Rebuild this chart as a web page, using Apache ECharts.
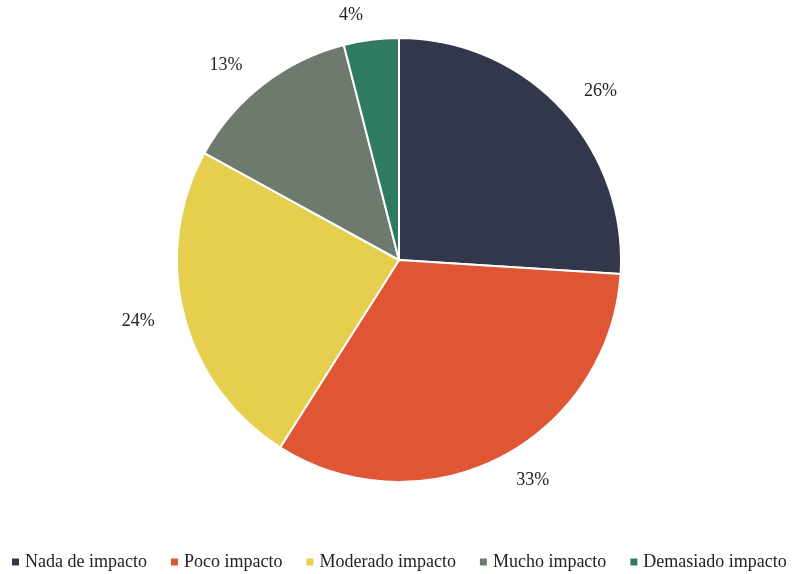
<!DOCTYPE html>
<html>
<head>
<meta charset="utf-8">
<script src="https://cdn.jsdelivr.net/npm/echarts@6/dist/echarts.min.js"></script>
<style>
  html, body { margin: 0; padding: 0; background: #fff; }
  #chart { width: 801px; height: 574px; }
</style>
</head>
<body>
<div id="chart"></div>
<script>
// Impact categories and their shares (percent)
const categories = ['Nada de impacto', 'Poco impacto', 'Moderado impacto', 'Mucho impacto', 'Demasiado impacto'];
const shares = [26, 33, 24, 13, 4];
const colors = ['#32374c', '#e05533', '#e6cf4e', '#6e7a6e', '#2f7b5f'];

const chart = echarts.init(document.getElementById('chart'));
const fontFamily = '"Liberation Serif", "DejaVu Serif", serif';

chart.setOption({
  animation: false,
  color: colors,
  legend: {
    bottom: 3,
    left: 10,
    padding: 0,
    itemWidth: 9,
    itemHeight: 9,
    itemGap: 22,
    icon: 'rect',
    textStyle: { fontFamily: fontFamily, fontSize: 18, color: '#222' },
    data: categories
  },
  series: [{
    type: 'pie',
    center: [399, 260],
    radius: [0, 222],
    startAngle: 90,
    clockwise: true,
    avoidLabelOverlap: false,
    itemStyle: { borderColor: '#fff', borderWidth: 2 },
    label: {
      show: true,
      position: 'outside',
      formatter: '{c}%',
      fontFamily: fontFamily,
      fontSize: 18,
      color: '#222'
    },
    labelLine: { show: false, length: 25, length2: 0 },
    data: categories.map((name, i) => ({ name: name, value: shares[i] }))
  }]
});
</script>
</body>
</html>
